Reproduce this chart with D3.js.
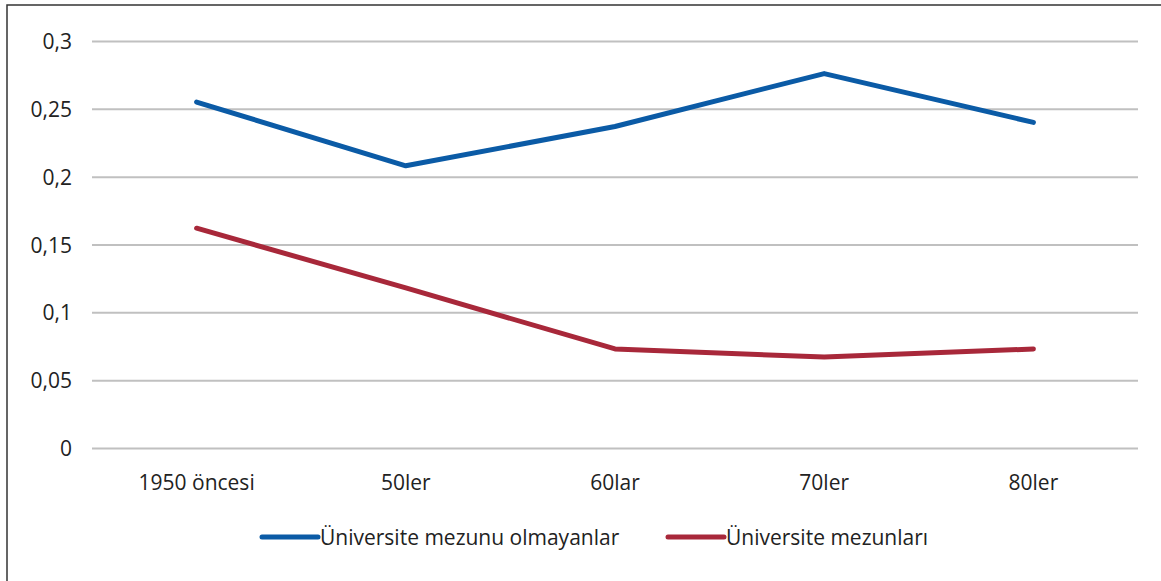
<!DOCTYPE html>
<html><head><meta charset="utf-8">
<script src="https://cdn.jsdelivr.net/npm/d3@7"></script>
<style>body{margin:0;background:#fff}svg{display:block}</style>
</head><body>
<svg id="c" width="1161" height="581"></svg>
<script>
const categories = ["1950 öncesi","50ler","60lar","70ler","80ler"];
const seriesNames = ["Üniversite mezunu olmayanlar","Üniversite mezunları"];
const nonGrad = [0.255,0.208,0.237,0.276,0.240];
const grad = [0.162,0.118,0.073,0.067,0.073];
const yTicks = [0,0.05,0.1,0.15,0.2,0.25,0.3];
const yTickLabels = ["0","0,05","0,1","0,15","0,2","0,25","0,3"];
const colors = ["#0b5ba6","#a8283a"];

const svg = d3.select("#c");
const font = "'Open Sans', sans-serif";
const fs = "21px";
svg.append("rect").attr("x",7).attr("y",5).attr("width",1170).attr("height",600)
  .attr("fill","#fff").attr("stroke","#333").attr("stroke-width",1.5);

const x = d3.scaleBand().domain(categories).range([92,1138]);
const y = d3.scaleLinear().domain([0,0.3]).range([448,41]);

const yAxis = d3.axisLeft(y).tickValues(yTicks).tickSize(-(1138-92)).tickFormat((d,i)=>yTickLabels[i]);
const gy = svg.append("g").attr("transform","translate(92,0)").call(yAxis);
gy.select(".domain").remove();
gy.selectAll(".tick line").attr("stroke","#c0c0c0").attr("stroke-width",2);
gy.selectAll(".tick text").attr("x",-20).attr("dy","0.36em").attr("fill","#222").style("font-family",font).style("font-size",fs);

const xAxis = d3.axisBottom(x).tickSize(0);
const gx = svg.append("g").attr("transform","translate(0,448)").call(xAxis);
gx.select(".domain").remove();
gx.selectAll(".tick text").attr("dy","0").attr("y",42).attr("fill","#222").style("font-family",font).style("font-size",fs);

const line = d3.line().x((d,i)=>x(categories[i])+x.bandwidth()/2).y(d=>y(d));
[nonGrad,grad].forEach((s,k)=>{
  svg.append("path").datum(s).attr("d",line).attr("fill","none")
    .attr("stroke",colors[k]).attr("stroke-width",5).attr("stroke-linecap","round").attr("stroke-linejoin","round");
});

const legX = [262,668];
seriesNames.forEach((n,k)=>{
  const g = svg.append("g");
  g.append("line").attr("x1",legX[k]).attr("x2",legX[k]+56).attr("y1",537).attr("y2",537)
    .attr("stroke",colors[k]).attr("stroke-width",5).attr("stroke-linecap","round");
  g.append("text").attr("x",legX[k]+58).attr("y",545).attr("fill","#222")
    .style("font-family",font).style("font-size",fs).text(n);
});
</script>
</body></html>
